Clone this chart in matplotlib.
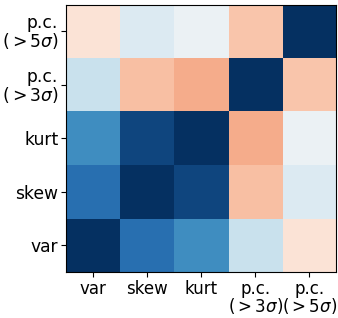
import numpy as np
import matplotlib
matplotlib.use("Agg")
import matplotlib.pyplot as plt

labels = ["var", "skew", "kurt", "p.c.\n$(>3\\sigma)$", "p.c.\n$(>5\\sigma)$"]
corr = np.array([
    [1.00, 0.75, 0.62, 0.22, -0.14],
    [0.75, 1.00, 0.92, -0.30, 0.14],
    [0.62, 0.92, 1.00, -0.37, 0.06],
    [0.22, -0.30, -0.37, 1.00, -0.28],
    [-0.14, 0.14, 0.06, -0.28, 1.00],
])

fig = plt.figure(figsize=(3.38, 3.18), dpi=100)
ax = fig.add_axes([0.195, 0.145, 0.8, 0.84])
ax.imshow(corr, cmap="RdBu", vmin=-1, vmax=1, origin="lower", aspect="auto")
ax.set_xticks(range(len(labels)))
ax.set_yticks(range(len(labels)))
ax.set_xticklabels(labels, fontsize=12.0, linespacing=0.9)
ax.set_yticklabels(labels, fontsize=12.3, linespacing=0.92)
ax.tick_params(axis="x", pad=2)
ax.tick_params(axis="y", pad=2)
fig.savefig("out.png", dpi=100)
